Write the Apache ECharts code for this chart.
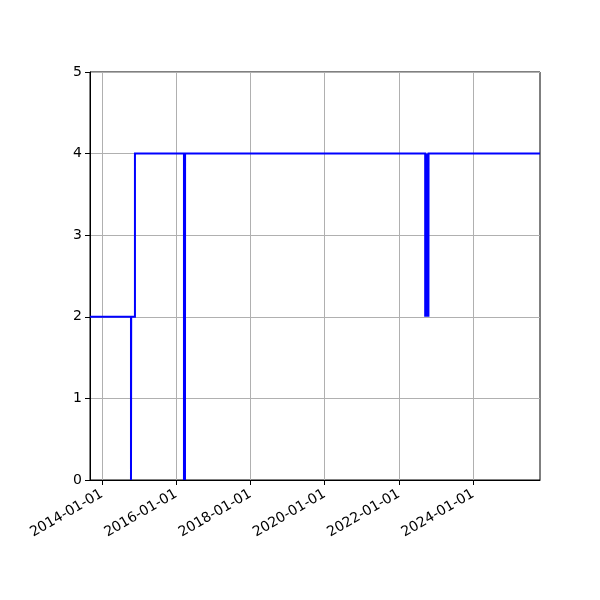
<!DOCTYPE html>
<html>
<head>
<meta charset="utf-8">
<script src="https://cdn.jsdelivr.net/npm/echarts@6/dist/echarts.min.js"></script>
<style>
  html, body { margin: 0; padding: 0; background: #fff; }
  #main { width: 600px; height: 600px; }
</style>
</head>
<body>
<div id="main"></div>
<script>
// step data: value holds from each date until the next one
var dates = [
    '2013-09-07', '2014-10-15', '2014-10-17', '2014-11-23',
    '2016-03-19', '2016-03-20', '2016-03-29', '2016-03-30',
    '2022-09-16', '2022-09-17', '2022-09-20', '2022-09-21',
    '2022-09-24', '2022-09-25', '2022-09-28', '2022-09-29',
    '2022-10-02', '2022-10-03', '2022-10-06', '2022-10-07',
    '2022-10-10', '2022-10-11', '2022-10-14', '2022-10-15',
    '2022-10-18', '2022-10-19', '2025-10-19'
];
var values = [
    2, 0, 2, 4,
    0, 4, 0, 4,
    2, 4, 2, 4,
    2, 4, 2, 4,
    2, 4, 2, 4,
    2, 4, 2, 4,
    2, 4, 4
];
var xTicks = ['2014-01-01', '2016-01-01', '2018-01-01', '2020-01-01', '2022-01-01', '2024-01-01'];
var xMin = '2013-09-07';
var xMax = '2025-10-19';

function toMs(d) {
    return +new Date(d + 'T00:00:00Z');
}
function fmtDate(v) {
    var d = new Date(v);
    var m = d.getUTCMonth() + 1, day = d.getUTCDate();
    return d.getUTCFullYear() + '-' + (m < 10 ? '0' : '') + m + '-' + (day < 10 ? '0' : '') + day;
}

var chart = echarts.init(document.getElementById('main'));

var tickVals = xTicks.map(toMs);
var seriesData = dates.map(function (d, i) {
    return [toMs(d), values[i]];
});

option = {
    animation: false,
    backgroundColor: '#ffffff',
    textStyle: { fontFamily: 'DejaVu Sans' },
    grid: {
        left: 90, right: 60, top: 72, bottom: 120, containLabel: false,
        show: true, borderColor: '#000', borderWidth: 1, backgroundColor: 'transparent'
    },
    xAxis: {
        type: 'value',
        min: toMs(xMin),
        max: toMs(xMax),
        axisLine: { show: true, onZero: false, lineStyle: { color: '#000', width: 1 } },
        axisTick: { show: true, length: 5, customValues: tickVals, lineStyle: { color: '#000', width: 1 } },
        axisLabel: {
            customValues: tickVals,
            rotate: 30,
            margin: 13,
            color: '#000',
            fontSize: 14,
            fontFamily: 'DejaVu Sans',
            formatter: fmtDate
        },
        splitLine: { show: true, lineStyle: { color: '#b0b0b0', width: 1 } }
    },
    yAxis: {
        type: 'value',
        min: 0,
        max: 5,
        interval: 1,
        axisLine: { show: true, lineStyle: { color: '#000', width: 1 } },
        axisTick: { show: true, length: 5, lineStyle: { color: '#000', width: 1 } },
        axisLabel: { color: '#000', fontSize: 14, margin: 8, fontFamily: 'DejaVu Sans' },
        splitLine: { show: true, lineStyle: { color: '#b0b0b0', width: 1 } }
    },
    series: [
        {
            type: 'line',
            step: 'end',
            data: seriesData,
            showSymbol: false,
            clip: true,
            sampling: null,
            lineStyle: { color: '#0000ff', width: 2, join: 'miter', cap: 'butt' },
            itemStyle: { color: '#0000ff' }
        }
    ]
};
chart.setOption(option);
</script>
</body>
</html>
